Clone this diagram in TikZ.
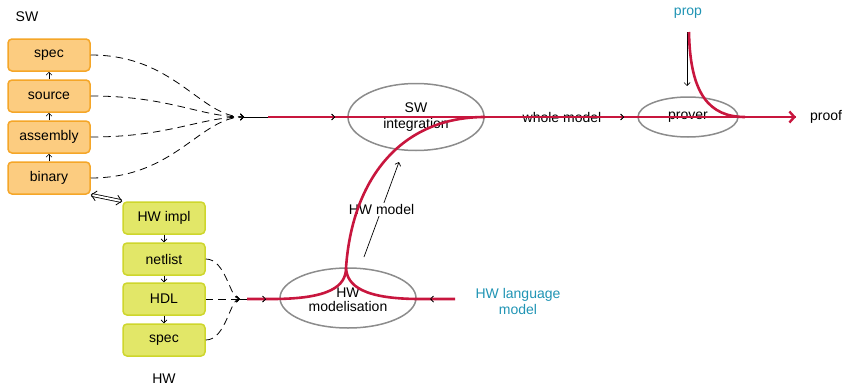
\documentclass[tikz,border=0pt]{standalone}
\usepackage{fontspec}
\setmainfont{Liberation Sans}
\usetikzlibrary{arrows.meta,shapes.geometric,positioning,calc}

\definecolor{swfill}{RGB}{252,204,128}
\definecolor{swline}{RGB}{245,166,40}
\definecolor{hwfill}{RGB}{226,231,104}
\definecolor{hwline}{RGB}{206,214,44}
\definecolor{flow}{RGB}{200,22,62}
\definecolor{ellline}{RGB}{140,140,140}
\definecolor{teal}{RGB}{32,148,180}

\tikzset{
  box/.style={rounded corners=4pt, line width=1.5pt, minimum width=82pt,
    minimum height=32pt, inner sep=0pt, font=\fontsize{14}{16}\selectfont},
  swbox/.style={box, draw=swline, fill=swfill},
  hwbox/.style={box, draw=hwline, fill=hwfill},
  proc/.style={ellipse, draw=ellline, line width=1.5pt, inner sep=0pt,
    font=\fontsize{14}{16}\selectfont, align=center},
  lbl/.style={font=\fontsize{14}{16}\selectfont, align=center, inner sep=1pt},
  tip/.style={-{Straight Barb[length=3pt,width=6pt]}},
  feed/.style={tip, dash pattern=on 7.5pt off 5pt, line width=0.8pt},
  plain/.style={tip, line width=0.7pt},
  flowline/.style={draw=flow, line width=2.6pt},
}

\begin{document}
\begin{tikzpicture}[x=1pt,y=-1pt]
\useasboundingbox (0,0) rectangle (843,388);

% software stack
\node[lbl] (swlab) at (27,17) {SW};
\node[swbox] (spec)   at (49,55)  {spec};
\node[swbox] (source) at (49,96)  {source};
\node[swbox] (asm)    at (49,137) {assembly};
\node[swbox] (bin)    at (49,178) {binary};
\draw[plain] (source.north) -- (spec.south);
\draw[plain] (asm.north) -- (source.south);
\draw[plain] (bin.north) -- (asm.south);

% hardware stack
\node[hwbox] (impl)    at (164,218) {HW impl};
\node[hwbox] (netlist) at (164,259) {netlist};
\node[hwbox] (hdl)     at (164,299) {HDL};
\node[hwbox] (hwspec)  at (164,340) {spec};
\node[lbl] (hwlab) at (164,379) {HW};
\draw[plain] (impl.south) -- (netlist.north);
\draw[plain] (netlist.south) -- (hdl.north);
\draw[plain] (hdl.south) -- (hwspec.north);

% link between the two stacks
\draw[line width=0.8pt, double distance=2pt,
  {Straight Barb[length=5pt,width=10pt]}-{Straight Barb[length=5pt,width=10pt]}]
  (bin.south east) -- (impl.north west);

% processing steps
\node[proc, minimum width=136pt, minimum height=67pt] (swint) at (416,117) {SW\\integration};
\node[proc, minimum width=100pt, minimum height=40pt] (prover) at (688,117) {prover};
\node[proc, minimum width=136pt, minimum height=60pt, text depth=0pt] (hwmod) at (348,298)
  {\raisebox{-3pt}{\shortstack{HW\\[1pt]modelisation}}};

% free texts
\node[lbl, text=teal] (prop) at (688,13) {prop};
\node[lbl] (proof) at (826,117) {proof};
\node[lbl, text=teal] (hwlang) at (518,301) {HW language\\model};

% junctions and waypoints
\coordinate (swj) at (244,117);
\coordinate (hwj) at (240,299);
\coordinate (swin) at (335,117);
\coordinate (pvin) at (624,117);
\coordinate (hwin) at (266,299);
\coordinate (lgin) at (430,299);
\coordinate (lgout) at (455,299);
\coordinate (cusp) at (346,268);
\coordinate (proptop) at (687,32);
\coordinate (propend) at (687,86);
\coordinate (hwmtail) at (364,257);
\coordinate (hwmhead) at (399,162);
\coordinate (proofend) at (796,117);

% dashed gathering of the software levels
\draw[feed] (spec.east)   .. controls (175,55)  and (200,117) .. (swj);
\draw[feed] (source.east) .. controls (170,96)  and (200,117) .. (swj);
\draw[feed] (asm.east)    .. controls (170,137) and (200,117) .. (swj);
\draw[feed] (bin.east)    .. controls (175,178) and (200,117) .. (swj);

% dashed gathering of the hardware levels
\draw[feed] (netlist.east) .. controls (226,259) and (230,299) .. (hwj);
\draw[feed] (hdl.east) -- (hwj);
\draw[feed] (hwspec.east)  .. controls (226,340) and (230,299) .. (hwj);

% black connectors
\draw[plain] (swj) -- (swin);
\draw[plain] (swint.east) -- (pvin);
\draw[plain] (proptop) -- (propend);
\draw[plain] (hwj) -- (hwin);
\draw[plain] (lgout) -- (lgin);
\draw[plain] (hwmtail) -- (hwmhead)
  node[pos=0.5, lbl, fill=white] (hwmodlab) {HW model};
\node[lbl] (wholelab) at (562,117) {whole model};

% main flow
\draw[flowline] (268,117) -- (proofend);
\draw[flowline, -{Straight Barb[length=5pt,width=11pt,line width=2.4pt]}]
  (780,117) -- (proofend);
\draw[flowline] (689,32) .. controls (690,95) and (710,117) .. (745,117);
\draw[flowline] (247,299) -- (272,299) .. controls (330,299) and (346,286) .. (cusp);
\draw[flowline] (cusp) .. controls (352,180) and (400,117) .. (485,117);
\draw[flowline] (lgout) -- (420,299) .. controls (364,299) and (347,286) .. (cusp);

% arrow tips lying over the flow
\draw[tip, line width=0.7pt] ($(swin)+(-0.5,0)$) -- (swin);
\draw[tip, line width=0.7pt] ($(pvin)+(-0.5,0)$) -- (pvin);
\draw[tip, line width=0.7pt] ($(hwin)+(-0.5,0)$) -- (hwin);
\draw[tip, line width=0.7pt] ($(lgin)+(0.5,0)$) -- (lgin);
\end{tikzpicture}
\end{document}
